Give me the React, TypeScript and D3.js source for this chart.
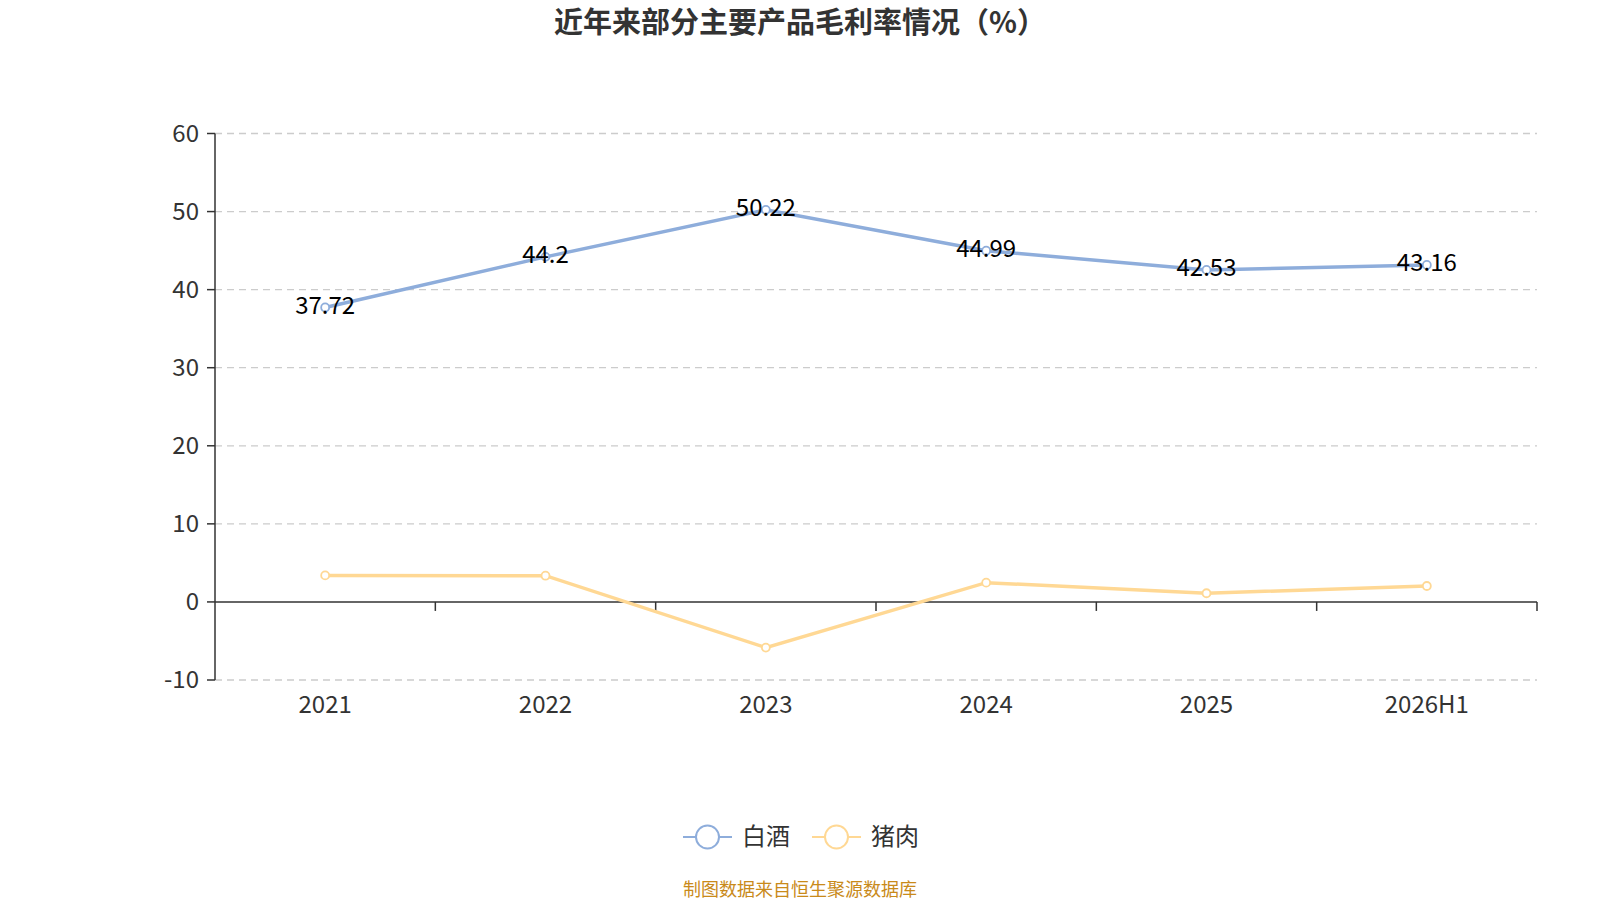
import { useEffect, useRef } from "react";
import * as d3 from "d3";

const categories = ["2021", "2022", "2023", "2024", "2025", "2026H1"];
const baijiu = [37.72, 44.2, 50.22, 44.99, 42.53, 43.16];
const pork = [3.4, 3.36, -5.85, 2.47, 1.11, 2.04];
const yTicks = [-10, 0, 10, 20, 30, 40, 50, 60];

const W = 1600;
const H = 900;
const FONT = "'Noto Sans CJK SC', 'Noto Sans', sans-serif";
const BLUE = "#8eaddb";
const YELLOW = "#ffd894";

export default function App() {
  const ref = useRef<SVGSVGElement>(null);

  useEffect(() => {
    const svg = d3.select(ref.current);
    svg.selectAll("*").remove();
    svg.style("font-family", FONT);

    const left = 215;
    const right = 1537;
    const x = d3.scaleBand<string>().domain(categories).range([left, right]);
    const y = d3.scaleLinear().domain([-10, 60]).range([680, 133.5]);
    const cx = (c: string) => (x(c) ?? 0) + x.bandwidth() / 2;

    // grid
    svg
      .append("g")
      .selectAll("line")
      .data(yTicks.filter((t) => t !== 0))
      .join("line")
      .attr("x1", left)
      .attr("x2", right)
      .attr("y1", (d) => y(d))
      .attr("y2", (d) => y(d))
      .attr("stroke", "#cccccc")
      .attr("stroke-dasharray", "7,5")
      .attr("stroke-width", 1.3);

    // y axis
    svg
      .append("line")
      .attr("x1", left)
      .attr("x2", left)
      .attr("y1", y(60))
      .attr("y2", y(-10))
      .attr("stroke", "#333")
      .attr("stroke-width", 1.5);
    svg
      .append("g")
      .selectAll("line")
      .data(yTicks)
      .join("line")
      .attr("x1", left - 8)
      .attr("x2", left)
      .attr("y1", (d) => y(d))
      .attr("y2", (d) => y(d))
      .attr("stroke", "#333")
      .attr("stroke-width", 1.5);
    svg
      .append("g")
      .selectAll("text")
      .data(yTicks)
      .join("text")
      .attr("x", 199)
      .attr("y", (d) => y(d))
      .attr("dy", "0.35em")
      .attr("text-anchor", "end")
      .attr("font-size", 24)
      .attr("fill", "#333")
      .text((d) => d);

    // x axis at zero
    svg
      .append("line")
      .attr("x1", left)
      .attr("x2", right)
      .attr("y1", y(0))
      .attr("y2", y(0))
      .attr("stroke", "#333")
      .attr("stroke-width", 1.5);
    svg
      .append("g")
      .selectAll("line")
      .data(categories.slice(1).concat(["end"]))
      .join("line")
      .attr("x1", (d, i) => (i < categories.length - 1 ? x(d) ?? 0 : right))
      .attr("x2", (d, i) => (i < categories.length - 1 ? x(d) ?? 0 : right))
      .attr("y1", y(0))
      .attr("y2", y(0) + 9)
      .attr("stroke", "#333")
      .attr("stroke-width", 1.5);
    svg
      .append("g")
      .selectAll("text")
      .data(categories)
      .join("text")
      .attr("x", (d) => cx(d))
      .attr("y", 705)
      .attr("dy", "0.35em")
      .attr("text-anchor", "middle")
      .attr("font-size", 24)
      .attr("fill", "#333")
      .text((d) => d);

    const line = d3
      .line<number>()
      .x((_, i) => cx(categories[i]))
      .y((d) => y(d));

    const series = [
      { values: pork, color: YELLOW },
      { values: baijiu, color: BLUE },
    ];
    series.forEach((s) => {
      svg
        .append("path")
        .attr("d", line(s.values) ?? "")
        .attr("fill", "none")
        .attr("stroke", s.color)
        .attr("stroke-width", 3.5);
      svg
        .append("g")
        .selectAll("circle")
        .data(s.values)
        .join("circle")
        .attr("cx", (_, i) => cx(categories[i]))
        .attr("cy", (d) => y(d))
        .attr("r", 4)
        .attr("fill", "#fff")
        .attr("stroke", s.color)
        .attr("stroke-width", 1.8);
    });

    // labels for baijiu
    svg
      .append("g")
      .selectAll("text")
      .data(baijiu)
      .join("text")
      .attr("x", (_, i) => cx(categories[i]))
      .attr("y", (d) => y(d) - 2)
      .attr("dy", "0.35em")
      .attr("text-anchor", "middle")
      .attr("font-size", 24)
      .attr("fill", "#000")
      .text((d) => d);

    // title
    svg
      .append("text")
      .attr("x", 800)
      .attr("y", 23)
      .attr("dy", "0.35em")
      .attr("text-anchor", "middle")
      .attr("font-size", 29)
      .attr("font-weight", "bold")
      .attr("fill", "#333")
      .text("近年来部分主要产品毛利率情况（%）");

    // legend
    const legend = [
      { name: "白酒", color: BLUE, x: 683 },
      { name: "猪肉", color: YELLOW, x: 812 },
    ];
    legend.forEach((l) => {
      const g = svg.append("g").attr("transform", `translate(${l.x},837)`);
      g.append("line")
        .attr("x1", 0)
        .attr("x2", 49)
        .attr("stroke", l.color)
        .attr("stroke-width", 2);
      g.append("circle")
        .attr("cx", 24.5)
        .attr("r", 11.5)
        .attr("fill", "#fff")
        .attr("stroke", l.color)
        .attr("stroke-width", 2);
      g.append("text")
        .attr("x", 59)
        .attr("dy", "0.35em")
        .attr("font-size", 24)
        .attr("fill", "#333")
        .text(l.name);
    });

    svg
      .append("text")
      .attr("x", 800)
      .attr("y", 890)
      .attr("dy", "0.35em")
      .attr("text-anchor", "middle")
      .attr("font-size", 18)
      .attr("fill", "#c98a1a")
      .text("制图数据来自恒生聚源数据库");
  }, []);

  return (
    <svg
      ref={ref}
      width={W}
      height={H}
      style={{ position: "absolute", left: 0, top: 0, background: "#fff" }}
    />
  );
}
